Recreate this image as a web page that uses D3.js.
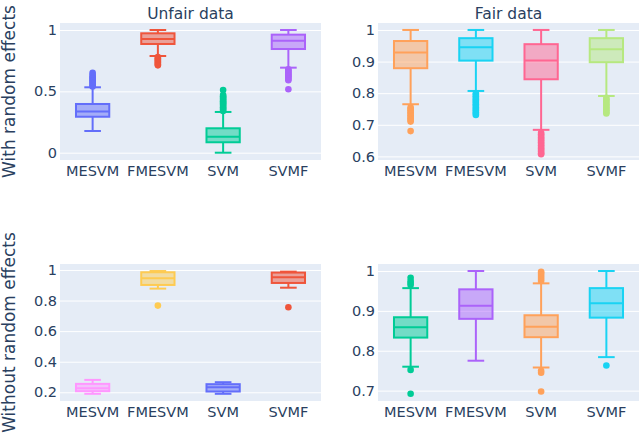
<html>
<script src='https://cdn.jsdelivr.net/npm/d3@7'></script>
<style>
  body { margin: 0; background: white; }
  text { font-family: 'DejaVu Sans', sans-serif; fill: #2a3f5f; }
</style>
<body onload='init()'>
<svg width=640 height=436></svg>
<script>
// categories and labels
const categories = ['MESVM', 'FMESVM', 'SVM', 'SVMF']
const colTitles = ['Unfair data', 'Fair data']
const rowTitles = ['With random effects', 'Without random effects']

// box stats per model: [lower whisker, q1, median, q3, upper whisker]
const unfairWithStats = [[0.177, 0.293, 0.335, 0.397, 0.533], [0.788, 0.886, 0.927, 0.973, 1.0],
                         [0.0, 0.085, 0.13, 0.199, 0.332], [0.693, 0.845, 0.913, 0.962, 1.0]]
const unfairWithOutliers = [
  [0.54, 0.55, 0.56, 0.57, 0.58, 0.59, 0.60, 0.61, 0.62, 0.635, 0.652],
  [0.78, 0.77, 0.76, 0.75, 0.74, 0.73, 0.72, 0.712],
  [0.34, 0.35, 0.36, 0.37, 0.38, 0.39, 0.40, 0.41, 0.42, 0.43, 0.44, 0.45, 0.46, 0.47, 0.511],
  [0.68, 0.67, 0.66, 0.65, 0.64, 0.63, 0.62, 0.61, 0.60, 0.59, 0.517]]
const fairWithStats = [[0.765, 0.879, 0.929, 0.965, 1.0], [0.807, 0.903, 0.945, 0.974, 1.0],
                       [0.684, 0.844, 0.903, 0.955, 1.0], [0.791, 0.898, 0.939, 0.974, 1.0]]
const fairWithOutliers = [
  [0.755, 0.75, 0.745, 0.74, 0.735, 0.73, 0.725, 0.72, 0.715, 0.71, 0.68],
  [0.80, 0.795, 0.79, 0.785, 0.78, 0.775, 0.77, 0.765, 0.76, 0.755, 0.75, 0.745, 0.74, 0.735, 0.731],
  [0.675, 0.67, 0.665, 0.66, 0.655, 0.65, 0.645, 0.64, 0.635, 0.63, 0.625, 0.62, 0.615, 0.61, 0.607],
  [0.785, 0.78, 0.775, 0.77, 0.765, 0.76, 0.755, 0.75, 0.745, 0.74, 0.736]]
const unfairWithoutStats = [[0.19, 0.207, 0.227, 0.255, 0.281], [0.878, 0.902, 0.946, 0.985, 0.993],
                            [0.19, 0.205, 0.233, 0.253, 0.266], [0.884, 0.915, 0.952, 0.983, 0.989]]
const unfairWithoutOutliers = [[], [0.767], [], [0.756]]
const fairWithoutStats = [[0.760, 0.833, 0.859, 0.884, 0.957], [0.775, 0.880, 0.913, 0.954, 1.0],
                          [0.758, 0.834, 0.860, 0.889, 0.969], [0.784, 0.883, 0.919, 0.957, 1.0]]
const fairWithoutOutliers = [
  [0.965, 0.97, 0.975, 0.983, 0.752, 0.692], [],
  [0.975, 0.98, 0.985, 0.99, 0.995, 0.998, 0.75, 0.745, 0.698], [0.763]]

// y ticks per panel
const unfairWithTicks = [0, 0.5, 1]
const fairWithTicks = [0.6, 0.7, 0.8, 0.9, 1]
const unfairWithoutTicks = [0.2, 0.4, 0.6, 0.8, 1]
const fairWithoutTicks = [0.7, 0.8, 0.9, 1]

function init() {
  var svg = d3.select('svg')
  var panels = [
    {x: 60, y: 23, w: 261, h: 137, dom: [-0.0595, 1.057], ticks: unfairWithTicks, stats: unfairWithStats,
     out: unfairWithOutliers, colors: ['#636efa', '#EF553B', '#00cc96', '#ab63fa'], title: colTitles[0]},
    {x: 378, y: 23, w: 261, h: 137, dom: [0.5886, 1.022], ticks: fairWithTicks, stats: fairWithStats,
     out: fairWithOutliers, colors: ['#FFA15A', '#19d3f3', '#FF6692', '#B6E880'], title: colTitles[1]},
    {x: 60, y: 264, w: 261, h: 137, dom: [0.143, 1.039], ticks: unfairWithoutTicks, stats: unfairWithoutStats,
     out: unfairWithoutOutliers, colors: ['#FF97FF', '#FECB52', '#636efa', '#EF553B']},
    {x: 378, y: 264, w: 261, h: 137, dom: [0.674, 1.0175], ticks: fairWithoutTicks, stats: fairWithoutStats,
     out: fairWithoutOutliers, colors: ['#00cc96', '#ab63fa', '#FFA15A', '#19d3f3']}
  ]

  panels.forEach(function(p) {
    var g = svg.append('g').attr('transform', 'translate(' + p.x + ',' + p.y + ')')
    var x = d3.scaleBand().domain(categories).range([0, p.w])
    var y = d3.scaleLinear().domain(p.dom).range([p.h, 0])
    var bw = x.bandwidth() * 0.51

    g.append('rect').attr('width', p.w).attr('height', p.h).attr('fill', '#E5ECF6')

    var ya = g.append('g').call(d3.axisLeft(y).tickValues(p.ticks).tickSize(-p.w).tickPadding(3)
                                 .tickFormat(d3.format('~g')))
    ya.select('.domain').remove()
    ya.selectAll('line').attr('stroke', 'white').attr('stroke-width', 1)
    ya.selectAll('text').style('font-size', '14.5px').attr('fill', '#2a3f5f')

    var xa = g.append('g').attr('transform', 'translate(0,' + p.h + ')')
      .call(d3.axisBottom(x).tickSize(0).tickPadding(6))
    xa.select('.domain').remove()
    xa.selectAll('text').style('font-size', '14.5px').attr('fill', '#2a3f5f')

    if (p.title) {
      g.append('text').attr('x', p.w / 2).attr('y', -4.5).attr('text-anchor', 'middle')
        .style('font-size', '15.5px').text(p.title)
    }

    categories.forEach(function(c, i) {
      var s = p.stats[i], col = p.colors[i]
      var cx = x(c) + x.bandwidth() / 2
      var b = g.append('g')
      b.append('line').attr('x1', cx).attr('x2', cx).attr('y1', y(s[3])).attr('y2', y(s[4]))
        .attr('stroke', col).attr('stroke-width', 2)
      b.append('line').attr('x1', cx).attr('x2', cx).attr('y1', y(s[1])).attr('y2', y(s[0]))
        .attr('stroke', col).attr('stroke-width', 2)
      b.selectAll('.cap').data([s[0], s[4]]).enter().append('line')
        .attr('x1', cx - bw / 4).attr('x2', cx + bw / 4)
        .attr('y1', function(d) { return y(d) }).attr('y2', function(d) { return y(d) })
        .attr('stroke', col).attr('stroke-width', 2)
      b.append('rect').attr('x', cx - bw / 2).attr('width', bw)
        .attr('y', y(s[3])).attr('height', y(s[1]) - y(s[3]))
        .attr('fill', col).attr('fill-opacity', 0.5).attr('stroke', col).attr('stroke-width', 2)
      b.append('line').attr('x1', cx - bw / 2).attr('x2', cx + bw / 2).attr('y1', y(s[2])).attr('y2', y(s[2]))
        .attr('stroke', col).attr('stroke-width', 2)
      b.selectAll('circle').data(p.out[i]).enter().append('circle')
        .attr('cx', cx).attr('cy', function(d) { return y(d) }).attr('r', 3.3).attr('fill', col)
    })
  })

  // row titles
  rowTitles.forEach(function(t, i) {
    var cy = i == 0 ? 91.5 : 332.5
    svg.append('text').attr('transform', 'translate(15,' + cy + ') rotate(-90)')
      .attr('text-anchor', 'middle').style('font-size', '17px').text(t)
  })
}
</script>
</body>
</html>
